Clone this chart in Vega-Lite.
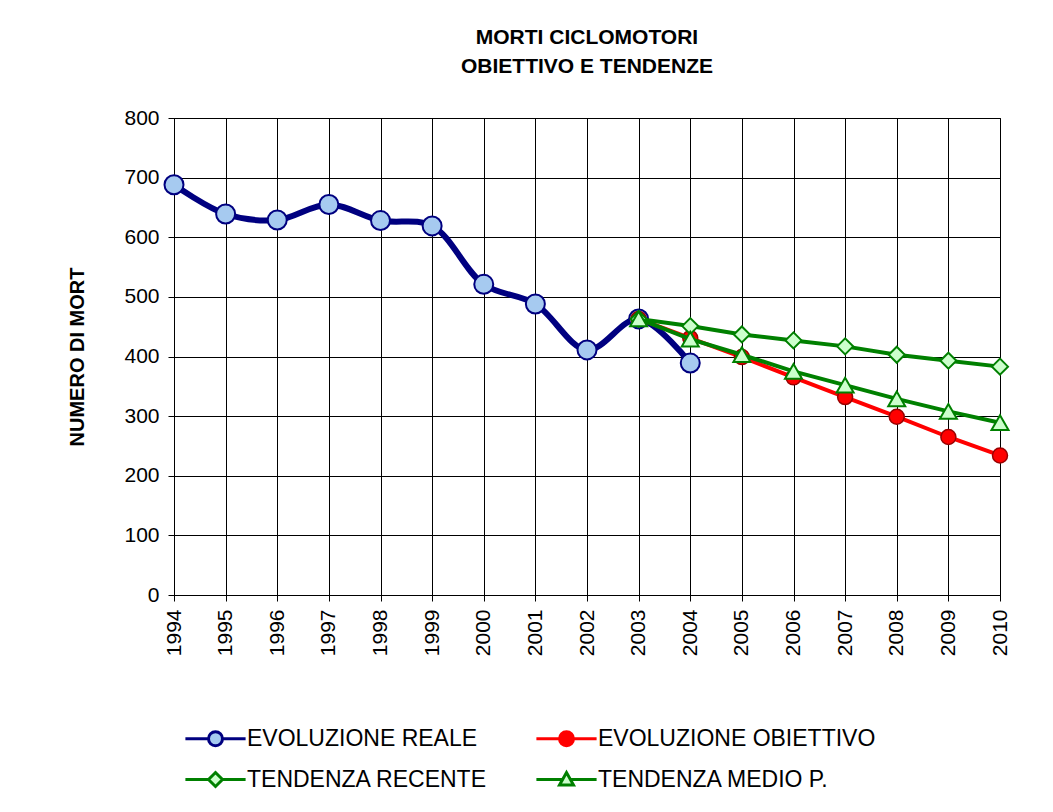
{
  "$schema": "https://vega.github.io/schema/vega-lite/v6.json",
  "width": 826,
  "height": 477,
  "autosize": "none",
  "padding": {"left": 174, "top": 118, "right": 53, "bottom": 217},
  "background": "white",
  "title": {
    "text": ["MORTI CICLOMOTORI", "OBIETTIVO E TENDENZE"],
    "font": "Liberation Sans",
    "fontSize": 21,
    "fontWeight": "bold",
    "lineHeight": 29,
    "color": "black",
    "anchor": "middle",
    "offset": 30
  },
  "config": {
    "view": {"stroke": "black", "strokeWidth": 1},
    "axis": {
      "labelFont": "Liberation Sans",
      "labelFontSize": 21,
      "labelColor": "black",
      "titleFont": "Liberation Sans",
      "titleFontSize": 20,
      "titleFontWeight": "bold",
      "titleColor": "black",
      "domainColor": "black",
      "domainWidth": 1,
      "tickColor": "black",
      "tickWidth": 1,
      "tickSize": 6,
      "gridColor": "black",
      "gridOpacity": 1,
      "gridWidth": 1
    }
  },
  "data": {
    "values": [
      {"year": 1994, "series": "EVOLUZIONE REALE", "value": 688},
      {"year": 1995, "series": "EVOLUZIONE REALE", "value": 639},
      {"year": 1996, "series": "EVOLUZIONE REALE", "value": 629},
      {"year": 1997, "series": "EVOLUZIONE REALE", "value": 655},
      {"year": 1998, "series": "EVOLUZIONE REALE", "value": 628},
      {"year": 1999, "series": "EVOLUZIONE REALE", "value": 619},
      {"year": 2000, "series": "EVOLUZIONE REALE", "value": 521},
      {"year": 2001, "series": "EVOLUZIONE REALE", "value": 488},
      {"year": 2002, "series": "EVOLUZIONE REALE", "value": 411},
      {"year": 2003, "series": "EVOLUZIONE REALE", "value": 463},
      {"year": 2004, "series": "EVOLUZIONE REALE", "value": 389},
      {"year": 2003, "series": "EVOLUZIONE OBIETTIVO", "value": 463},
      {"year": 2004, "series": "EVOLUZIONE OBIETTIVO", "value": 431},
      {"year": 2005, "series": "EVOLUZIONE OBIETTIVO", "value": 399},
      {"year": 2006, "series": "EVOLUZIONE OBIETTIVO", "value": 365},
      {"year": 2007, "series": "EVOLUZIONE OBIETTIVO", "value": 332},
      {"year": 2008, "series": "EVOLUZIONE OBIETTIVO", "value": 299},
      {"year": 2009, "series": "EVOLUZIONE OBIETTIVO", "value": 265},
      {"year": 2010, "series": "EVOLUZIONE OBIETTIVO", "value": 234},
      {"year": 2003, "series": "TENDENZA RECENTE", "value": 463},
      {"year": 2004, "series": "TENDENZA RECENTE", "value": 451},
      {"year": 2005, "series": "TENDENZA RECENTE", "value": 437},
      {"year": 2006, "series": "TENDENZA RECENTE", "value": 427},
      {"year": 2007, "series": "TENDENZA RECENTE", "value": 417},
      {"year": 2008, "series": "TENDENZA RECENTE", "value": 403},
      {"year": 2009, "series": "TENDENZA RECENTE", "value": 393},
      {"year": 2010, "series": "TENDENZA RECENTE", "value": 383},
      {"year": 2003, "series": "TENDENZA MEDIO P.", "value": 463},
      {"year": 2004, "series": "TENDENZA MEDIO P.", "value": 429},
      {"year": 2005, "series": "TENDENZA MEDIO P.", "value": 403},
      {"year": 2006, "series": "TENDENZA MEDIO P.", "value": 375},
      {"year": 2007, "series": "TENDENZA MEDIO P.", "value": 352},
      {"year": 2008, "series": "TENDENZA MEDIO P.", "value": 329},
      {"year": 2009, "series": "TENDENZA MEDIO P.", "value": 308},
      {"year": 2010, "series": "TENDENZA MEDIO P.", "value": 289}
    ]
  },
  "encoding": {
    "x": {
      "field": "year",
      "type": "quantitative",
      "scale": {"domain": [1994, 2010], "nice": false, "zero": false},
      "axis": {
        "title": null,
        "values": [1994, 1995, 1996, 1997, 1998, 1999, 2000, 2001, 2002, 2003, 2004, 2005, 2006, 2007, 2008, 2009, 2010],
        "format": "d",
        "labelAngle": 270,
        "labelPadding": 8,
        "labelBound": false,
        "labelFlush": false,
        "labelOverlap": false
      }
    },
    "y": {
      "field": "value",
      "type": "quantitative",
      "scale": {"domain": [0, 800], "nice": false},
      "axis": {
        "title": "NUMERO DI MORT",
        "titlePadding": 36,
        "values": [0, 100, 200, 300, 400, 500, 600, 700, 800],
        "labelPadding": 9,
        "labelFlush": false,
        "labelOverlap": false
      }
    }
  },
  "layer": [
    {
      "transform": [{"filter": "datum.series === 'EVOLUZIONE REALE'"}],
      "mark": {"type": "line", "color": "#000080", "strokeWidth": 6, "interpolate": "catmull-rom"}
    },
    {
      "transform": [{"filter": "datum.series === 'EVOLUZIONE REALE'"}],
      "mark": {"type": "point", "shape": "circle", "size": 361, "filled": true, "fill": "#A6CAF0", "stroke": "#000080", "strokeWidth": 2, "opacity": 1}
    },
    {
      "transform": [{"filter": "datum.series === 'EVOLUZIONE OBIETTIVO'"}],
      "mark": {"type": "line", "color": "#FF0000", "strokeWidth": 4}
    },
    {
      "transform": [{"filter": "datum.series === 'EVOLUZIONE OBIETTIVO'"}],
      "mark": {"type": "point", "shape": "circle", "size": 225, "filled": true, "fill": "#FF0000", "stroke": "#990000", "strokeWidth": 1.5, "opacity": 1}
    },
    {
      "transform": [{"filter": "datum.series === 'TENDENZA RECENTE'"}],
      "mark": {"type": "line", "color": "#008000", "strokeWidth": 4}
    },
    {
      "transform": [{"filter": "datum.series === 'TENDENZA RECENTE'"}],
      "mark": {"type": "point", "shape": "diamond", "size": 256, "filled": true, "fill": "#CCFFCC", "stroke": "#008000", "strokeWidth": 2, "opacity": 1}
    },
    {
      "transform": [{"filter": "datum.series === 'TENDENZA MEDIO P.'"}],
      "mark": {"type": "line", "color": "#008000", "strokeWidth": 4}
    },
    {
      "transform": [{"filter": "datum.series === 'TENDENZA MEDIO P.'"}],
      "mark": {"type": "point", "shape": "triangle-up", "size": 289, "filled": true, "fill": "#CCFFCC", "stroke": "#008000", "strokeWidth": 2, "opacity": 1}
    },
    {
      "transform": [{"filter": "false"}],
      "mark": {"type": "point", "filled": true, "strokeWidth": 3, "opacity": 1},
      "encoding": {
        "stroke": {
          "field": "series", "type": "nominal",
          "scale": {"domain": ["EVOLUZIONE REALE", "EVOLUZIONE OBIETTIVO", "TENDENZA RECENTE", "TENDENZA MEDIO P."], "range": ["#000080", "#FF0000", "#008000", "#008000"]},
          "legend": {"title": null, "orient": "none", "legendX": 30, "legendY": 609, "columns": 2, "direction": "horizontal", "padding": 0, "labelFont": "Liberation Sans", "labelFontSize": 23, "labelColor": "black", "labelLimit": 0, "labelOffset": 20, "symbolSize": 196, "symbolStrokeWidth": 3, "columnPadding": 42, "rowPadding": 14}
        },
        "fill": {
          "field": "series", "type": "nominal",
          "scale": {"domain": ["EVOLUZIONE REALE", "EVOLUZIONE OBIETTIVO", "TENDENZA RECENTE", "TENDENZA MEDIO P."], "range": ["#A6CAF0", "#FF0000", "#CCFFCC", "#CCFFCC"]},
          "legend": {"title": null, "orient": "none", "legendX": 30, "legendY": 609, "columns": 2, "direction": "horizontal", "padding": 0, "labelFont": "Liberation Sans", "labelFontSize": 23, "labelColor": "black", "labelLimit": 0, "labelOffset": 20, "symbolSize": 196, "symbolStrokeWidth": 3, "columnPadding": 42, "rowPadding": 14}
        },
        "shape": {
          "field": "series", "type": "nominal",
          "scale": {"domain": ["EVOLUZIONE REALE", "EVOLUZIONE OBIETTIVO", "TENDENZA RECENTE", "TENDENZA MEDIO P."], "range": [
            "M-4.3,0H-1M1,0H4.3M-1,0A1,1,0,1,1,1,0A1,1,0,1,1,-1,0Z",
            "M-4.3,0H-1M1,0H4.3M-1,0A1,1,0,1,1,1,0A1,1,0,1,1,-1,0Z",
            "M-4.3,0H-1M1,0H4.3M-1,0L0,-1L1,0L0,1Z",
            "M-4.3,0H-0.45M0.45,0H4.3M-1,0.8L0,-1L1,0.8Z"
          ]},
          "legend": {"title": null, "orient": "none", "legendX": 30, "legendY": 609, "columns": 2, "direction": "horizontal", "padding": 0, "labelFont": "Liberation Sans", "labelFontSize": 23, "labelColor": "black", "labelLimit": 0, "labelOffset": 20, "symbolSize": 196, "symbolStrokeWidth": 3, "columnPadding": 42, "rowPadding": 14}
        }
      }
    }
  ]
}
